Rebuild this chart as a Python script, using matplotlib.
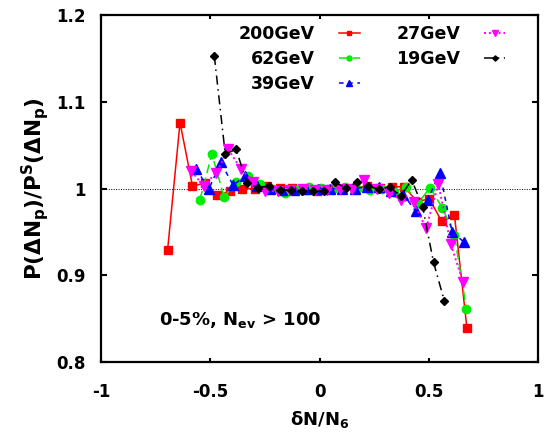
import numpy as np
import matplotlib
matplotlib.use("Agg")
import matplotlib.pyplot as plt

plt.rcParams['font.family'] = ['DejaVu Sans']
plt.rcParams['mathtext.fontset'] = 'custom'
plt.rcParams['mathtext.rm'] = 'DejaVu Sans:bold'
plt.rcParams['mathtext.it'] = 'DejaVu Sans:bold'
plt.rcParams['mathtext.bf'] = 'DejaVu Sans:bold'

# 200 GeV
x200 = [-0.696, -0.639, -0.582, -0.525, -0.468, -0.410, -0.353, -0.296, -0.239, -0.182,
        -0.125, -0.068, -0.011, 0.046, 0.104, 0.161, 0.218, 0.275, 0.332, 0.389,
        0.446, 0.503, 0.560, 0.618, 0.675]
y200 = [0.929, 1.076, 1.003, 1.006, 0.992, 0.997, 1.000, 1.000, 1.003, 1.001,
        1.001, 0.998, 0.997, 1.000, 1.000, 1.000, 1.003, 1.001, 1.002, 1.002,
        0.985, 0.988, 0.962, 0.969, 0.839]
# 62 GeV
x62 = [-0.548, -0.493, -0.437, -0.382, -0.326, -0.271, -0.215, -0.160, -0.104, -0.049,
       0.007, 0.062, 0.118, 0.173, 0.229, 0.284, 0.340, 0.395, 0.451, 0.506,
       0.562, 0.617, 0.673]
y62 = [0.987, 1.040, 0.990, 1.008, 1.014, 1.005, 0.999, 0.995, 0.998, 1.002,
       1.001, 1.000, 1.002, 1.000, 0.998, 1.000, 0.996, 1.002, 0.983, 1.001,
       0.978, 0.947, 0.861]
# 39 GeV
x39 = [-0.564, -0.508, -0.452, -0.396, -0.341, -0.285, -0.229, -0.174, -0.118, -0.062,
       -0.006, 0.050, 0.105, 0.161, 0.217, 0.273, 0.328, 0.384, 0.440, 0.495,
       0.551, 0.607, 0.663]
y39 = [1.023, 0.999, 1.030, 1.004, 1.014, 1.003, 1.000, 0.998, 0.998, 1.000,
       1.000, 1.000, 1.000, 1.000, 1.002, 1.002, 0.997, 0.993, 0.974, 0.987,
       1.018, 0.950, 0.938]
# 27 GeV
x27 = [-0.587, -0.531, -0.474, -0.418, -0.361, -0.304, -0.248, -0.191, -0.135, -0.078,
       -0.021, 0.035, 0.092, 0.148, 0.205, 0.261, 0.318, 0.374, 0.431, 0.488,
       0.544, 0.601, 0.657]
y27 = [1.020, 1.003, 1.018, 1.045, 1.023, 1.008, 0.997, 0.997, 0.998, 1.000,
       0.998, 0.998, 1.000, 1.000, 1.010, 1.000, 0.995, 0.987, 0.984, 0.954,
       1.005, 0.936, 0.892]
# 19 GeV
x19 = [-0.482, -0.432, -0.382, -0.332, -0.281, -0.231, -0.181, -0.131, -0.081, -0.030,
       0.020, 0.070, 0.120, 0.171, 0.221, 0.271, 0.321, 0.371, 0.422, 0.472,
       0.522, 0.572]
y19 = [1.153, 1.040, 1.045, 1.006, 1.001, 1.003, 0.998, 0.998, 0.997, 0.997,
       0.997, 1.007, 1.001, 1.007, 1.003, 0.999, 1.002, 0.991, 1.010, 0.979,
       0.915, 0.870]

labels = ["200GeV", "62GeV", "39GeV", "27GeV", "19GeV"]

fig = plt.figure(figsize=(5.5, 4.41), dpi=100)
ax = fig.add_axes([0.184, 0.179, 0.794, 0.787])

ax.axhline(1.0, color='black', lw=0.7, ls=(0, (1, 1.5)), zorder=1)

l1, = ax.plot(x200, y200, color='red', ls='-', lw=1.1, marker='s', ms=6, label=labels[0])
l2, = ax.plot(x62, y62, color='#00ee00', ls=(0, (6, 3)), lw=1.1, marker='o', ms=6, label=labels[1])
l3, = ax.plot(x39, y39, color='blue', ls=(0, (3, 3)), lw=1.1, marker='^', ms=6.5, label=labels[2])
l4, = ax.plot(x27, y27, color='magenta', ls=(0, (1, 1.5)), lw=1.4, marker='v', ms=6.5, label=labels[3])
l5, = ax.plot(x19, y19, color='black', ls=(0, (6, 3, 1, 3)), lw=1.1, marker='D', ms=4.5, label=labels[4])

ax.set_xlim(-1, 1)
ax.set_ylim(0.8, 1.2)
ax.set_xticks([-1, -0.5, 0, 0.5, 1])
ax.set_xticklabels(['-1', '-0.5', '0', '0.5', '1'])
ax.set_yticks([0.8, 0.9, 1.0, 1.1, 1.2])
ax.set_yticklabels(['0.8', '0.9', '1', '1.1', '1.2'])
ax.tick_params(direction='in', width=1.5, top=True, right=True, labelsize=12)
ax.tick_params(axis='x', length=3, pad=15)
ax.tick_params(axis='y', length=4.5, pad=11)
for lab in ax.get_xticklabels() + ax.get_yticklabels():
    lab.set_fontweight('bold')
for s in ax.spines.values():
    s.set_linewidth(1.6)

ax.set_xlabel('δN/N$_6$', fontsize=13, fontweight='bold', labelpad=6)
ax.set_ylabel('P(ΔN$_\\mathrm{p}$)/P$^\\mathrm{S}$(ΔN$_\\mathrm{p}$)',
              fontsize=15.5, fontweight='bold', labelpad=4)

ax.text(-0.736, 0.8425, '0-5%, N$_\\mathrm{ev}$ > 100', fontsize=13, fontweight='bold')

leg = ax.legend(handles=[l1, l2, l3, l4, l5], ncol=2, loc='upper right',
                bbox_to_anchor=(0.925, 0.972), frameon=False, markerfirst=False,
                prop={'weight': 'bold', 'size': 12.5}, handlelength=1.2,
                columnspacing=2.1, handletextpad=1.4, labelspacing=0.42,
                markerscale=0.6, borderpad=0, borderaxespad=0)
for t in leg.get_texts():
    t.set_ha('right')
    t.set_position((0, 0))

fig.savefig('out.png', dpi=100)
